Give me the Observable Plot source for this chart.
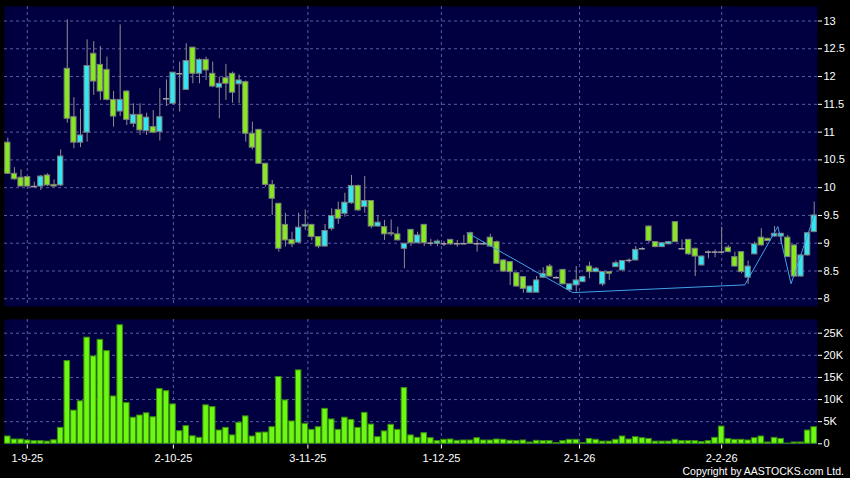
<!DOCTYPE html>
<html>
<head>
<meta charset="utf-8">
<script src="https://cdn.jsdelivr.net/npm/d3@7"></script>
<script src="https://cdn.jsdelivr.net/npm/@observablehq/plot@0.6"></script>
<style>
  html, body { margin: 0; padding: 0; background: #000; }
  #wrap { position: relative; width: 850px; height: 478px; background: #000; overflow: hidden; }
  #wrap svg { display: block; }
  #copy { position: absolute; right: 6px; top: 465px; color: #fff; font: 10.5px "Liberation Sans", Arial, sans-serif; letter-spacing: 0px; }
</style>
</head>
<body>
<div id="wrap"></div>
<script>
// ---- data ----
const open  = [10.81,10.25,10.18,10.19,10.02,10.02,10.22,10.05,10.04,12.14,11.27,10.81,10.99,12.41,12.21,12.12,11.58,11.37,11.73,11.15,11.31,11.02,11.09,11.00,11.60,11.51,12.05,11.76,12.52,12.05,12.30,12.05,11.80,11.97,12.05,11.86,11.90,10.97,11.04,10.43,10.05,9.71,9.33,9.06,9.01,9.30,9.33,9.11,8.94,9.26,9.60,9.53,9.72,10.03,9.65,9.76,9.30,9.29,9.18,9.16,8.90,9.24,9.00,9.33,9.00,8.99,8.99,9.06,8.99,8.99,9.18,8.99,8.99,9.10,9.02,8.69,8.66,8.46,8.39,8.11,8.11,8.38,8.58,8.38,8.52,8.16,8.24,8.30,8.58,8.48,8.26,8.48,8.57,8.51,8.69,8.69,8.90,9.30,9.02,8.93,8.98,9.38,8.90,9.06,8.90,8.60,8.84,8.84,8.84,8.92,8.75,8.84,8.38,8.80,9.10,9.08,9.12,9.12,9.10,8.96,8.40,8.78,9.20];
const high  = [10.89,10.36,10.32,10.20,10.10,10.22,10.25,10.14,10.68,13.02,11.62,11.41,12.66,12.63,12.54,12.35,11.73,12.93,11.75,11.51,11.51,11.34,11.39,11.78,11.94,12.07,12.26,12.59,12.52,12.32,12.35,12.26,11.99,12.22,12.08,12.03,11.92,11.18,11.05,10.44,10.13,9.72,9.54,9.20,9.54,9.60,9.34,9.12,9.34,9.62,9.74,9.90,10.22,10.05,10.20,9.77,9.50,9.41,9.42,9.29,9.00,9.25,9.20,9.34,9.07,9.06,9.03,9.07,9.05,9.14,9.20,9.06,9.02,9.16,9.04,8.70,8.67,8.47,8.40,8.23,8.40,8.56,8.62,8.40,8.53,8.27,8.58,8.41,8.66,8.56,8.49,8.49,8.68,8.69,8.72,8.94,8.92,9.31,9.03,9.01,9.03,9.39,9.06,9.07,8.91,8.77,8.86,8.88,9.29,8.96,8.84,8.85,8.68,9.02,9.26,9.09,9.30,9.18,9.14,8.97,8.79,9.19,9.74];
const low   = [10.24,10.13,10.02,10.02,10.00,9.95,10.02,10.01,10.02,11.16,10.70,10.72,10.82,11.66,11.57,11.56,11.09,11.28,11.12,11.08,10.94,10.94,10.97,10.84,11.46,11.51,11.36,11.76,11.87,11.87,11.93,11.80,11.24,11.57,11.52,11.51,10.82,10.68,10.42,10.01,9.50,8.84,8.93,8.92,9.00,9.23,9.04,8.90,8.93,9.22,9.34,9.47,9.70,9.57,9.54,9.26,9.29,9.05,9.12,9.04,8.54,8.94,8.99,8.94,8.94,8.94,8.94,8.96,8.93,8.98,8.98,8.84,8.97,8.93,8.62,8.48,8.24,8.21,8.10,8.10,8.11,8.37,8.39,8.36,8.25,8.12,8.12,8.29,8.36,8.47,8.22,8.33,8.56,8.50,8.64,8.68,8.88,9.00,8.92,8.92,8.97,9.01,8.88,8.78,8.40,8.59,8.72,8.74,8.82,8.83,8.57,8.45,8.26,8.79,8.95,9.03,9.11,8.98,8.74,8.39,8.39,8.77,9.19];
const close = [10.25,10.15,10.02,10.02,10.02,10.20,10.04,10.02,10.56,11.24,10.81,10.94,12.19,11.91,11.73,11.58,11.28,11.58,11.22,11.31,11.03,11.26,10.99,11.27,11.60,12.07,12.05,12.28,12.05,12.30,12.11,11.82,11.87,11.87,11.71,11.93,10.97,10.72,10.43,10.05,9.80,8.90,9.05,8.98,9.28,9.33,9.11,8.94,9.22,9.49,9.44,9.73,10.03,9.59,9.76,9.30,9.37,9.16,9.16,9.05,8.99,9.00,9.14,9.00,9.00,9.03,8.99,8.98,8.99,8.99,8.99,8.99,8.99,8.94,8.63,8.49,8.48,8.22,8.18,8.22,8.33,8.45,8.40,8.38,8.26,8.26,8.33,8.39,8.48,8.54,8.48,8.45,8.64,8.68,8.69,8.88,8.90,9.04,8.93,9.00,9.02,9.02,8.90,8.80,8.76,8.76,8.84,8.84,8.84,8.84,8.58,8.48,8.58,8.98,8.96,9.04,9.17,9.17,8.75,8.40,8.78,9.18,9.50];
// volume in thousands of shares
const volume = [1.65,0.97,0.97,0.75,0.6,0.6,0.5,0.8,3.6,18.7,7.5,9.6,24.0,19.75,23.5,20.95,10.7,26.8,9.2,5.9,6.4,6.9,6.0,12.4,11.9,8.9,2.85,4.0,1.7,1.35,8.7,8.3,3.0,3.6,1.9,4.75,6.2,1.65,2.5,2.55,3.75,15.1,9.8,5.05,16.6,4.5,3.15,3.75,7.9,5.5,3.15,5.9,5.4,3.6,7.0,4.35,1.5,2.8,4.3,3.15,12.6,1.9,1.35,2.4,1.27,0.6,0.9,0.97,0.68,0.75,0.75,1.27,0.75,0.75,0.97,0.9,0.68,0.6,0.75,0.3,0.68,0.6,0.6,0.15,0.6,0.9,0.9,0.15,1.1,0.9,0.5,0.5,0.9,1.65,0.97,1.5,1.27,1.1,0.5,0.5,0.5,0.9,0.6,0.6,0.6,0.4,0.6,1.35,3.9,1.1,0.9,0.9,0.75,1.27,1.65,0.3,1.35,1.1,0.05,0.3,0.3,3.0,3.75];
// overlay line (trading-day index, price)
const lineIdx   = [69.5, 85.5, 111.5, 116.5, 118.5, 122];
const linePrice = [9.19, 8.11, 8.25, 9.30, 8.27, 9.50];
// axes
const dateTickIdx = [2.95, 25.05, 45.4, 65.6, 86.5, 108];
const dateLabels  = ["1-9-25", "2-10-25", "3-11-25", "1-12-25", "2-1-26", "2-2-26"];
const priceTicks  = [8, 8.5, 9, 9.5, 10, 10.5, 11, 11.5, 12, 12.5, 13];
const volTicks    = [0, 5, 10, 15, 20, 25];

// ---- build ----
const N = open.length;
const candles = d3.range(N).map(i => ({i, o: open[i], h: high[i], l: low[i], c: close[i], v: volume[i]}));
const bodies = candles.filter(d => d.o !== d.c);
const dojis = candles.filter(d => d.o === d.c);
const trend = lineIdx.map((x, k) => ({x, y: linePrice[k]}));
const labelOf = new Map(dateTickIdx.map((p, k) => [p, dateLabels[k]]));

const PANEL = "#000040";
const GRID = "#5b5ba6";
const FONT = "'Liberation Sans', Arial, sans-serif";
const xDomain = [-0.5, N - 0.5];
const common = {
  width: 850,
  marginLeft: 4,
  marginRight: 33,
  style: {background: "#000", color: "#fff", fontFamily: FONT, fontSize: "11px"}
};
const grid = {stroke: GRID, strokeOpacity: 1, strokeDasharray: "3,3", strokeWidth: 1};

const price = Plot.plot({
  ...common,
  height: 312,
  marginTop: 6,
  marginBottom: 6,
  x: {domain: xDomain, axis: null, label: null},
  y: {domain: [7.861, 13.261], axis: null, label: null},
  marks: [
    Plot.frame({fill: PANEL, stroke: "none"}),
    Plot.gridY(priceTicks, grid),
    Plot.gridX(dateTickIdx, grid),
    Plot.ruleX(candles, {x: "i", y1: "l", y2: "h", stroke: "#8e8e8e", strokeWidth: 1}),
    Plot.rect(bodies, {
      x1: d => d.i - 0.4, x2: d => d.i + 0.4, y1: "o", y2: "c",
      fill: d => d.c > d.o ? "#33e6f2" : "#86e81e",
      stroke: "#7d7d7d", strokeWidth: 1
    }),
    Plot.ruleY(dojis, {x1: d => d.i - 0.45, x2: d => d.i + 0.45, y: "o", stroke: "#a6a6a6", strokeWidth: 1.5}),
    Plot.line(trend, {x: "x", y: "y", stroke: "#3fa2e6", strokeWidth: 1}),
    Plot.axisY(priceTicks, {anchor: "right", label: null, tickSize: 4, tickPadding: 2, tickFormat: d => String(d)})
  ]
});

const vol = Plot.plot({
  ...common,
  height: 166,
  marginTop: 7,
  marginBottom: 33.5,
  x: {domain: xDomain, axis: null, label: null},
  y: {domain: [-0.27, 28.1], axis: null, label: null},
  marks: [
    Plot.frame({fill: PANEL, stroke: "none"}),
    Plot.gridY(volTicks.filter(d => d > 0), grid),
    Plot.gridX(dateTickIdx, grid),
    Plot.rect(candles, {
      x1: d => d.i - 0.42, x2: d => d.i + 0.42, y1: 0, y2: "v",
      fill: "#6cf812", stroke: "#3a8c0c", strokeWidth: 1
    }),
    Plot.axisY(volTicks, {anchor: "right", label: null, tickSize: 4, tickPadding: 2, tickFormat: d => d === 0 ? "0" : d + "K"}),
    Plot.axisX(dateTickIdx, {anchor: "bottom", label: null, tickSize: 4, tickPadding: 5, tickFormat: d => labelOf.get(d)})
  ]
});

const wrap = document.getElementById("wrap");
wrap.appendChild(price);
wrap.appendChild(vol);
const copy = document.createElement("div");
copy.id = "copy";
copy.textContent = "Copyright by AASTOCKS.com Ltd.";
wrap.appendChild(copy);
</script>
</body>
</html>
